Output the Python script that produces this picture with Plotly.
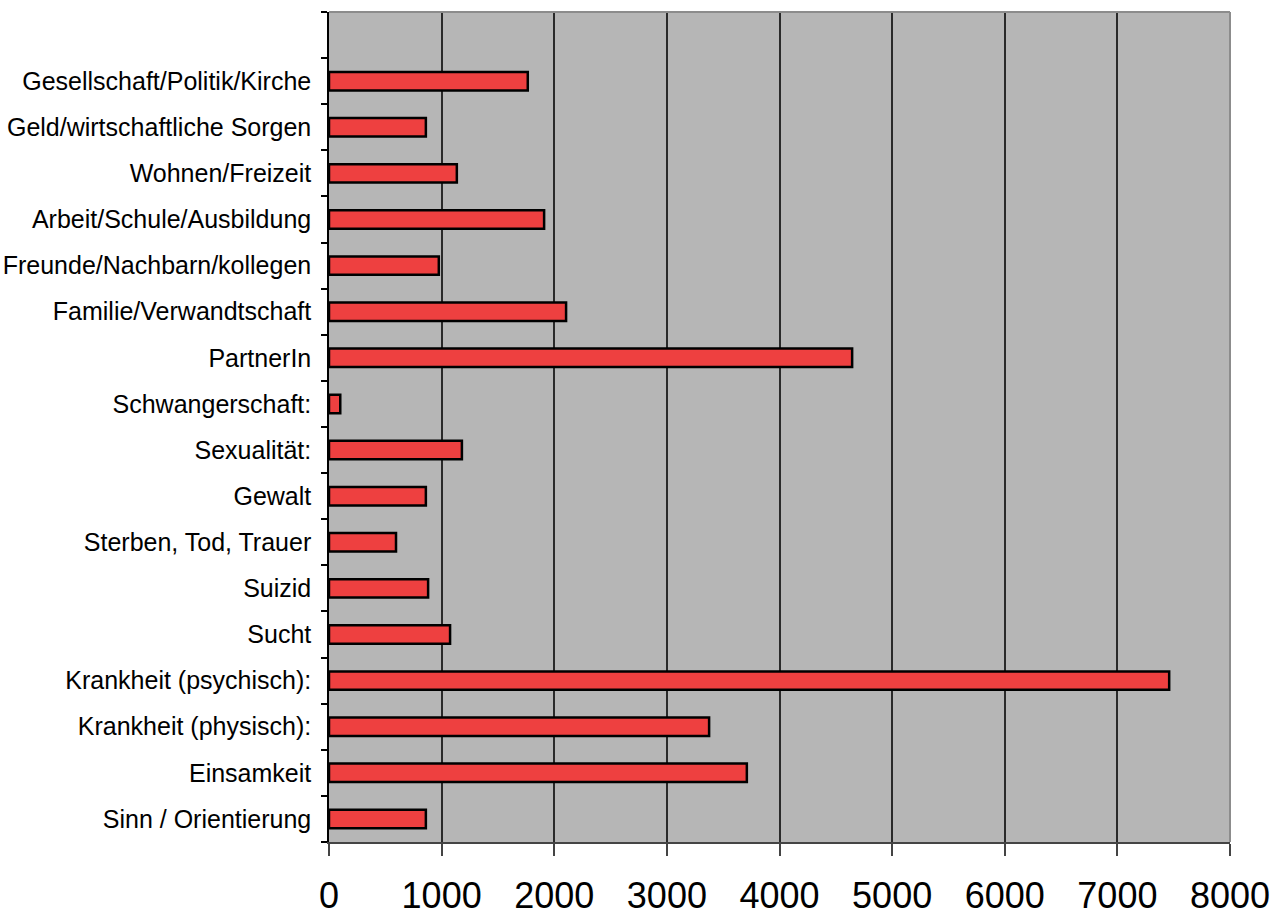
import plotly.graph_objects as go

# Topics, listed from bottom to top; the blank entry leaves an empty slot at the top
topics = [
    "Sinn / Orientierung",
    "Einsamkeit",
    "Krankheit (physisch):",
    "Krankheit (psychisch):",
    "Sucht",
    "Suizid",
    "Sterben, Tod, Trauer",
    "Gewalt",
    "Sexualität:",
    "Schwangerschaft:",
    "PartnerIn",
    "Familie/Verwandtschaft",
    "Freunde/Nachbarn/kollegen",
    "Arbeit/Schule/Ausbildung",
    "Wohnen/Freizeit",
    "Geld/wirtschaftliche Sorgen",
    "Gesellschaft/Politik/Kirche",
    " ",
]

counts = [
    860, 3710, 3375, 7460, 1075, 880, 595, 860, 1180, 100,
    4645, 2105, 975, 1910, 1135, 860, 1765, None,
]

x_ticks = [0, 1000, 2000, 3000, 4000, 5000, 6000, 7000, 8000]

fig = go.Figure(
    go.Bar(
        x=counts,
        y=topics,
        orientation="h",
        width=0.4,
        marker=dict(color="#EE4040", line=dict(color="#000000", width=2.5)),
        hoverinfo="x+y",
    )
)

fig.update_layout(
    width=1277,
    height=918,
    margin=dict(l=329, r=47, t=12, b=76),
    paper_bgcolor="#FFFFFF",
    plot_bgcolor="#B6B6B6",
    showlegend=False,
    font=dict(family="Liberation Sans, Arial, sans-serif", color="#000000"),
)

fig.update_xaxes(
    range=[0, 8000],
    tickvals=x_ticks,
    ticktext=[str(v) for v in x_ticks],
    tickfont=dict(size=36),
    ticks="outside",
    ticklen=12,
    tickwidth=1.5,
    tickcolor="#444444",
    ticklabelstandoff=9,
    showgrid=True,
    gridcolor="#2a2a2a",
    gridwidth=1.5,
    showline=True,
    linecolor="#444444",
    linewidth=2,
    zeroline=False,
    automargin=False,
    fixedrange=True,
)

fig.update_yaxes(
    type="category",
    categoryorder="array",
    categoryarray=topics,
    range=[-0.5, len(topics) - 0.5],
    tickfont=dict(size=25),
    ticks="outside",
    tickson="boundaries",
    ticklen=6,
    tickwidth=1.5,
    tickcolor="#000000",
    ticklabelstandoff=11,
    showgrid=False,
    showline=True,
    linecolor="#000000",
    linewidth=1.5,
    zeroline=False,
    automargin=False,
    fixedrange=True,
)

# Light frame along the top and right edges of the plotting area
fig.add_shape(type="line", xref="paper", yref="paper", x0=0, x1=1, y0=1, y1=1,
              line=dict(color="#8C8C8C", width=2))
fig.add_shape(type="line", xref="paper", yref="paper", x0=1, x1=1, y0=0, y1=1,
              line=dict(color="#8C8C8C", width=2))

fig.write_html("out.html")
